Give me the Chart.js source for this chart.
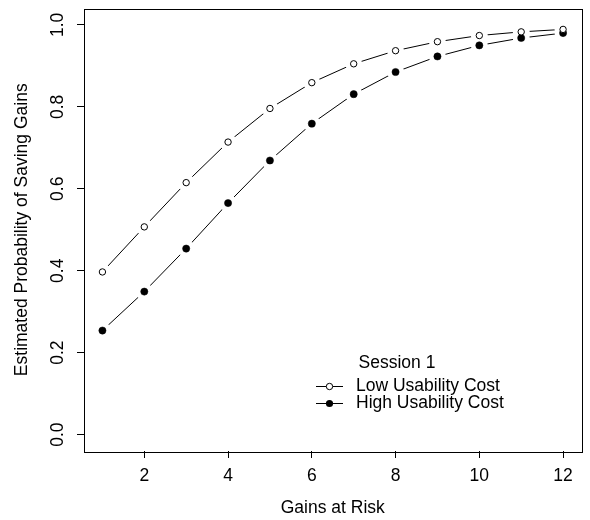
<!DOCTYPE html>
<html lang="en">
  <head>
    <meta charset="UTF-8" />
    <title>Estimated Probability of Saving Gains</title>
    <style>
      body {
        margin: 0;
        background: #fff;
      }
      canvas {
        display: block;
      }
    </style>
    <script src="https://cdn.jsdelivr.net/npm/chart.js"></script>
  </head>
  <body>
    <canvas id="probChart" width="590" height="520"></canvas>

    <script>
      // data
      const gains = [1, 2, 3, 4, 5, 6, 7, 8, 9, 10, 11, 12];
      const lowCost = [0.397, 0.507, 0.615, 0.714, 0.796, 0.859, 0.905, 0.937, 0.959, 0.974, 0.983, 0.989];
      const highCost = [0.254, 0.349, 0.454, 0.565, 0.669, 0.759, 0.831, 0.885, 0.923, 0.95, 0.968, 0.98];
      const xTicks = [2, 4, 6, 8, 10, 12];
      const yTicks = [0.0, 0.2, 0.4, 0.6, 0.8, 1.0];
      const legendTitle = "Session 1";
      const seriesNames = ["Low Usability Cost", "High Usability Cost"];

      const FONT = "'Liberation Sans', Arial, Helvetica, sans-serif";
      const FSIZE = 17.5;

      const toXY = (ys) => gains.map((g, i) => ({ x: g, y: ys[i] }));

      // R type="b": line with gaps around the points
      function lineSet(ys) {
        return {
          data: toXY(ys),
          borderColor: "#000",
          borderWidth: 1,
          pointRadius: 0,
          fill: false,
          order: 3,
        };
      }
      function gapSet(ys) {
        return {
          data: toXY(ys),
          showLine: false,
          pointRadius: 8.5,
          pointBackgroundColor: "#fff",
          pointBorderWidth: 0,
          order: 2,
        };
      }

      // box + legend drawn on top
      const boxAndLegend = {
        id: "boxAndLegend",
        afterDraw(chart) {
          const ctx = chart.ctx;
          const a = chart.chartArea;
          ctx.save();
          ctx.strokeStyle = "#000";
          ctx.lineWidth = 1;
          ctx.strokeRect(
            Math.round(a.left) + 0.5,
            Math.round(a.top) + 0.5,
            Math.round(a.right - a.left),
            Math.round(a.bottom - a.top)
          );

          ctx.fillStyle = "#000";
          ctx.font = FSIZE + "px " + FONT;
          ctx.textBaseline = "middle";
          ctx.textAlign = "center";
          ctx.fillText(legendTitle, 397, 363);

          ctx.textAlign = "left";
          const rows = [386.5, 403.5];
          seriesNames.forEach((name, i) => {
            const y = rows[i];
            ctx.beginPath();
            ctx.moveTo(316, y);
            ctx.lineTo(343, y);
            ctx.stroke();
            ctx.beginPath();
            ctx.arc(329.5, y, i === 0 ? 3.2 : 3.6, 0, Math.PI * 2);
            if (i === 0) {
              ctx.fillStyle = "#fff";
              ctx.fill();
              ctx.stroke();
            } else {
              ctx.fillStyle = "#000";
              ctx.fill();
            }
            ctx.fillStyle = "#000";
            ctx.fillText(name, 356, y);
          });
          ctx.restore();
        },
      };

      const ctx = document.getElementById("probChart").getContext("2d");
      new Chart(ctx, {
        type: "line",
        data: {
          datasets: [
            lineSet(lowCost),
            lineSet(highCost),
            gapSet(lowCost),
            gapSet(highCost),
            {
              label: seriesNames[0],
              data: toXY(lowCost),
              showLine: false,
              pointRadius: 3.2,
              pointBackgroundColor: "#fff",
              pointBorderColor: "#000",
              pointBorderWidth: 1,
              order: 1,
            },
            {
              label: seriesNames[1],
              data: toXY(highCost),
              showLine: false,
              pointRadius: 3.6,
              pointBackgroundColor: "#000",
              pointBorderColor: "#000",
              pointBorderWidth: 0.5,
              order: 1,
            },
          ],
        },
        options: {
          responsive: false,
          animation: false,
          layout: {
            padding: { left: 0, right: 7, top: 4, bottom: 0 },
          },
          plugins: {
            legend: { display: false },
            tooltip: { enabled: false },
          },
          scales: {
            x: {
              type: "linear",
              min: 0.56,
              max: 12.44,
              afterBuildTicks: (scale) => {
                scale.ticks = xTicks.map((v) => ({ value: v }));
              },
              afterFit: (scale) => {
                scale.height = 69;
                scale.paddingLeft = 0;
                scale.paddingRight = 0;
              },
              grid: {
                drawOnChartArea: false,
                drawTicks: true,
                tickLength: 7,
                color: "#000",
              },
              border: { display: false },
              ticks: {
                color: "#000",
                padding: 8,
                maxRotation: 0,
                font: { family: FONT, size: FSIZE },
              },
              title: {
                display: true,
                text: "Gains at Risk",
                color: "#000",
                padding: { top: 0, bottom: 1.5 },
                font: { family: FONT, size: FSIZE },
              },
            },
            y: {
              type: "linear",
              min: -0.04,
              max: 1.04,
              afterBuildTicks: (scale) => {
                scale.ticks = yTicks.map((v) => ({ value: v }));
              },
              afterFit: (scale) => {
                scale.width = 84;
                scale.paddingTop = 0;
                scale.paddingBottom = 0;
              },
              grid: {
                drawOnChartArea: false,
                drawTicks: true,
                tickLength: 7,
                color: "#000",
              },
              border: { display: false },
              ticks: {
                color: "#000",
                padding: 7,
                minRotation: 90,
                maxRotation: 90,
                crossAlign: "center",
                font: { family: FONT, size: FSIZE },
                callback: (v) => v.toFixed(1),
              },
              title: {
                display: true,
                text: "Estimated Probability of Saving Gains",
                color: "#000",
                padding: { top: 11.5, bottom: 0 },
                font: { family: FONT, size: FSIZE },
              },
            },
          },
        },
        plugins: [boxAndLegend],
      });
    </script>
  </body>
</html>
